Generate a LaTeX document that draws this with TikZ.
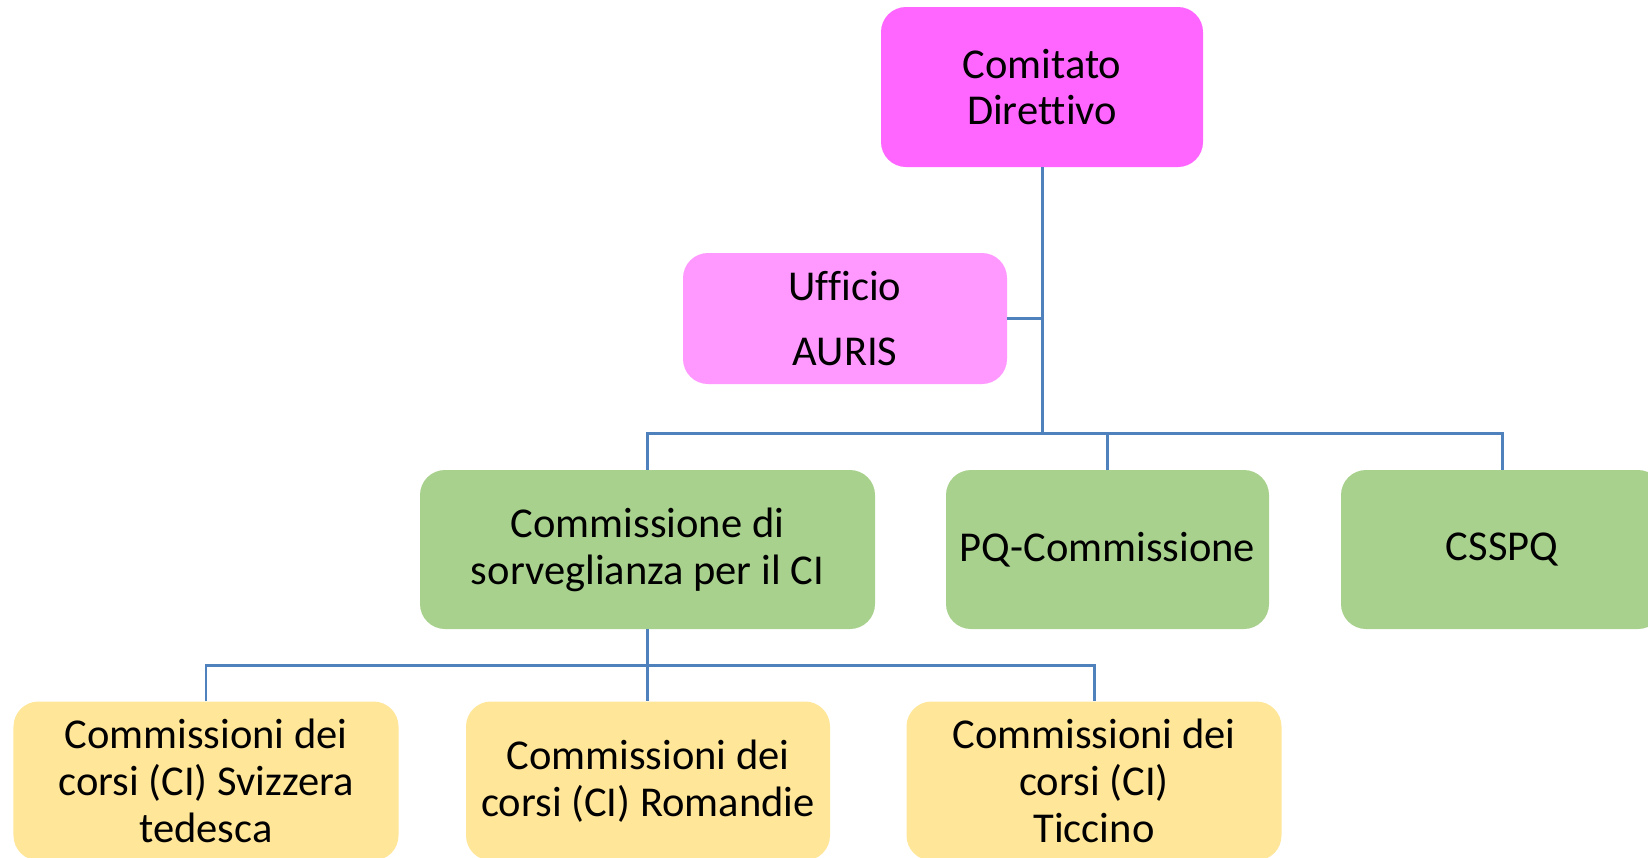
\documentclass[tikz,border=0pt]{standalone}
\usepackage{fontspec}
\setmainfont[Ligatures=NoCommon]{Carlito}
\definecolor{topmag}{RGB}{255,102,255}
\definecolor{offmag}{RGB}{255,153,255}
\definecolor{boxgreen}{RGB}{169,209,142}
\definecolor{boxyellow}{RGB}{255,230,153}
\definecolor{linkblue}{RGB}{79,129,189}
\tikzset{
  orgbox/.style={rounded corners=0.5cm,align=center,inner sep=2pt,
    font=\fontsize{24.2}{26.7}\selectfont,minimum height=3.18cm},
  link/.style={draw=linkblue,line width=1.7pt}
}

\begin{document}
\begin{tikzpicture}
  \useasboundingbox (0,0) rectangle (32.96,-17.14);
  \clip (0,0) rectangle (32.96,-17.14);

  % Levels of the tree
  \coordinate (bus) at (0,-8.66);
  \coordinate (subbus) at (0,-13.3);

  % Top
  \node[orgbox,fill=topmag,minimum width=6.44cm,minimum height=3.2cm] (cd) at (20.84,-1.74)
    {Comitato\\Direttivo};
  \node[orgbox,fill=offmag,minimum width=6.48cm,minimum height=2.62cm] (uff) at (16.9,-6.37)
    {Ufficio\\[10pt]AURIS};

  % Commissions
  \node[orgbox,fill=boxgreen,minimum width=9.1cm] (sorv) at (12.95,-10.99)
    {Commissione di\\sorveglianza per il CI};
  \node[orgbox,fill=boxgreen,minimum width=6.46cm] (pq) at (22.15,-10.99)
    {PQ-Commissione};
  \node[orgbox,fill=boxgreen,minimum width=6.44cm] (csspq) at (30.04,-10.99)
    {CSSPQ};

  % Course commissions
  \node[orgbox,fill=boxyellow,minimum width=7.7cm] (ch) at (4.12,-15.62)
    {Commissioni dei\\corsi (CI) Svizzera\\tedesca};
  \node[orgbox,fill=boxyellow,minimum width=7.28cm] (rom) at (12.96,-15.62)
    {Commissioni dei\\corsi (CI) Romandie};
  \node[orgbox,fill=boxyellow,minimum width=7.5cm] (tic) at (21.88,-15.62)
    {Commissioni dei\\corsi (CI)\\Ticcino};

  % Connectors
  \draw[link] (cd.south) -- (cd.south |- bus);
  \draw[link] (uff.east) -- (uff.east -| cd.south);
  \draw[link] (sorv.north) -- (sorv.north |- bus) -- (csspq.north |- bus) -- (csspq.north);
  \draw[link] (pq.north) -- (pq.north |- bus);
  \draw[link] (ch.north) -- (ch.north |- subbus) -- (tic.north |- subbus) -- (tic.north);
  \draw[link] (sorv.south) -- (sorv.south |- rom.north);

\end{tikzpicture}
\end{document}
